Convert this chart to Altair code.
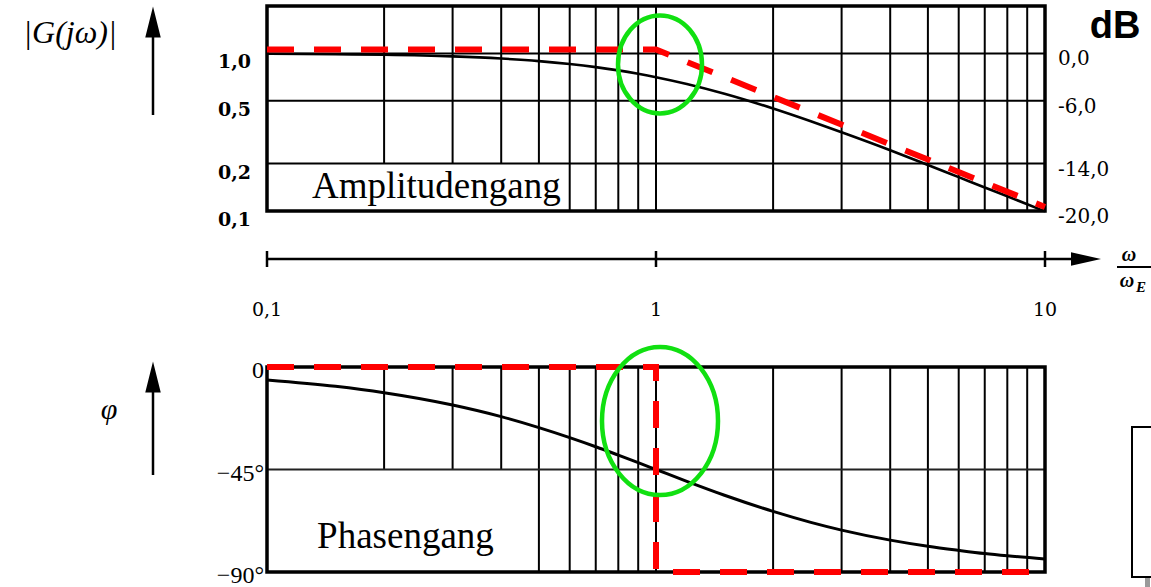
import altair as alt
import pandas as pd

# ---- frequency response of the first-order lag, read along ω/ωE ----
w_curve = [0.1, 0.15, 0.2, 0.3, 0.4, 0.5, 0.6, 0.7, 0.8, 0.9, 1.0,
           1.2, 1.5, 2.0, 2.5, 3.0, 4.0, 5.0, 6.0, 7.0, 8.0, 10.0]
mag_curve = [0.995, 0.989, 0.981, 0.958, 0.928, 0.894, 0.857, 0.819, 0.781, 0.743, 0.707,
             0.640, 0.555, 0.447, 0.371, 0.316, 0.243, 0.196, 0.164, 0.141, 0.124, 0.0995]
phase_curve = [-5.7, -8.5, -11.3, -16.7, -21.8, -26.6, -31.0, -35.0, -38.7, -42.0, -45.0,
               -50.2, -56.3, -63.4, -68.2, -71.6, -76.0, -78.7, -80.5, -81.9, -82.9, -84.3]

# straight-line asymptotes
mag_asym_w = [0.1, 1.0, 10.0]
mag_asym = [1.0, 1.0, 0.1]
phase_asym_w = [0.1, 1.0, 1.0, 10.0]
phase_asym = [0.0, 0.0, -90.0, -90.0]

# grid
grid_w = [0.2, 0.3, 0.4, 0.5, 0.6, 0.7, 0.8, 0.9, 1.0,
          2.0, 3.0, 4.0, 5.0, 6.0, 7.0, 8.0, 9.0]
mag_grid = [1.0, 0.5, 0.2]
phase_grid = [-45.0]

# tick labels
mag_ticks = [1.0, 0.5, 0.2, 0.1]
mag_tick_labels = ["1,0", "0,5", "0,2", "0,1"]
db_tick_labels = ["0,0", "-6,0", "-14,0", "-20,0"]
w_ticks = [0.1, 1.0, 10.0]
w_tick_labels = ["0,1", "1", "10"]
phase_ticks = [0.0, -45.0, -90.0]
phase_tick_labels = ["0", "\u221245°", "\u221290°"]

# highlighted corner-frequency regions (centre ω, centre value)
mag_mark = (1.024, 0.852)
phase_mark = (1.024, -23.7)

# ---- scales ----
XS = alt.Scale(type="log", domain=[0.1, 10], range=[267, 1045], nice=False)
MAG = alt.Scale(type="log", domain=[0.1, 2], range=[211, 6], nice=False)
PHI = alt.Scale(type="linear", domain=[-90, 0], range=[572, 367], nice=False, zero=False)


def X(f):
    return alt.X(f, type="quantitative", scale=XS, axis=None)


def YM(f):
    return alt.Y(f, type="quantitative", scale=MAG, axis=None)


def YP(f):
    return alt.Y(f, type="quantitative", scale=PHI, axis=None)


one = pd.DataFrame({"k": [0]})
SERIF = "Liberation Serif"
NUMF = "DejaVu Serif"

# ---- tables ----
curve = pd.DataFrame({"w": w_curve, "mag": mag_curve, "phi": phase_curve})
mag_as = pd.DataFrame({"w": mag_asym_w, "v": mag_asym, "i": range(len(mag_asym))})
phi_as = pd.DataFrame({"w": phase_asym_w, "v": phase_asym, "i": range(len(phase_asym))})
vgrid_top = pd.DataFrame({"w": grid_w, "lo": 0.1, "hi": 2.0})
vgrid_bot = pd.DataFrame({"w": grid_w, "lo": -90.0, "hi": 0.0})
hgrid_top = pd.DataFrame({"v": mag_grid, "a": 0.1, "b": 10.0})
hgrid_bot = pd.DataFrame({"v": phase_grid, "a": 0.1, "b": 10.0})
frame_top = pd.DataFrame({"a": [0.1], "b": [10.0], "lo": [0.1], "hi": [2.0]})
frame_bot = pd.DataFrame({"a": [0.1], "b": [10.0], "lo": [-90.0], "hi": [0.0]})
box_top = pd.DataFrame({"a": [0.1], "b": [0.59], "lo": [0.1], "hi": [0.2]})
box_bot = pd.DataFrame({"a": [0.1], "b": [0.49], "lo": [-90.0], "hi": [-45.0]})
mag_lab = pd.DataFrame({"v": mag_ticks, "t": mag_tick_labels, "db": db_tick_labels})
w_lab = pd.DataFrame({"w": w_ticks, "t": w_tick_labels})
phi_lab = pd.DataFrame({"v": phase_ticks, "t": phase_tick_labels})
title_top = pd.DataFrame({"w": [0.1305], "v": [0.121], "t": ["Amplitudengang"]})
title_bot = pd.DataFrame({"w": [0.1345], "v": [-79.5], "t": ["Phasengang"]})
ell_top = pd.DataFrame({"w": [mag_mark[0]], "v": [mag_mark[1]]})
ell_bot = pd.DataFrame({"w": [phase_mark[0]], "v": [phase_mark[1]]})
axis_start = pd.DataFrame({"w": [0.1]})

# ---- grid ----
vg_top = alt.Chart(vgrid_top).mark_rule(color="black", strokeWidth=2).encode(
    x=X("w"), y=YM("lo"), y2="hi")
vg_bot = alt.Chart(vgrid_bot).mark_rule(color="black", strokeWidth=2).encode(
    x=X("w"), y=YP("lo"), y2="hi")

white_top = alt.Chart(box_top).mark_rect(color="white").encode(
    x=X("a"), x2="b", y=YM("lo"), y2="hi")
white_bot = alt.Chart(box_bot).mark_rect(color="white").encode(
    x=X("a"), x2="b", y=YP("lo"), y2="hi")

hg_top = alt.Chart(hgrid_top).mark_rule(color="black", strokeWidth=2).encode(
    x=X("a"), x2="b", y=YM("v"))
hg_bot = alt.Chart(hgrid_bot).mark_rule(color="#222", strokeWidth=1.8).encode(
    x=X("a"), x2="b", y=YP("v"))

frame_t = alt.Chart(frame_top).mark_rect(fillOpacity=0, stroke="black", strokeWidth=3.5).encode(
    x=X("a"), x2="b", y=YM("lo"), y2="hi")
frame_b = alt.Chart(frame_bot).mark_rect(fillOpacity=0, stroke="black", strokeWidth=3.5).encode(
    x=X("a"), x2="b", y=YP("lo"), y2="hi")

# ---- panel titles ----
t_top = alt.Chart(title_top).mark_text(font=SERIF, fontSize=37, align="left",
                                       baseline="alphabetic", color="black").encode(
    x=X("w"), y=YM("v"), text="t:N")
t_bot = alt.Chart(title_bot).mark_text(font=SERIF, fontSize=37, align="left",
                                       baseline="alphabetic", color="black").encode(
    x=X("w"), y=YP("v"), text="t:N")

# ---- response curves ----
mag_line = alt.Chart(curve).mark_line(color="black", strokeWidth=2.6, interpolate="monotone").encode(
    x=X("w"), y=YM("mag"))
phi_line = alt.Chart(curve).mark_line(color="black", strokeWidth=3, interpolate="monotone").encode(
    x=X("w"), y=YP("phi"))

mag_red = alt.Chart(mag_as).mark_line(color="#ff0000", strokeWidth=6, strokeDash=[27, 20],
                                      yOffset=-4).encode(
    x=X("w"), y=YM("v"), order="i:Q")
phi_red = alt.Chart(phi_as).mark_line(color="#ff0000", strokeWidth=6, strokeDash=[27, 20]).encode(
    x=X("w"), y=YP("v"), order="i:Q")

# ---- green highlight ellipses ----
ellipse_top = "M-1,0A1,1.167,0,1,1,1,0A1,1.167,0,1,1,-1,0Z"
ellipse_bot = "M-1,0A1,1.276,0,1,1,1,0A1,1.276,0,1,1,-1,0Z"
g_top = alt.Chart(ell_top).mark_point(shape=ellipse_top, filled=False, stroke="#11e011",
                                      strokeWidth=4.5, size=7056, opacity=1).encode(
    x=X("w"), y=YM("v"))
g_bot = alt.Chart(ell_bot).mark_point(shape=ellipse_bot, filled=False, stroke="#11e011",
                                      strokeWidth=4.5, size=13456, opacity=1).encode(
    x=X("w"), y=YP("v"))

# ---- tick labels ----
lab_left = alt.Chart(mag_lab).mark_text(font=NUMF, fontSize=19, fontWeight="bold", align="right",
                                        baseline="middle", dy=9, color="black").encode(
    x=alt.value(251), y=YM("v"), text="t:N")
lab_right = alt.Chart(mag_lab).mark_text(font=NUMF, fontSize=20, align="left",
                                         baseline="middle", dy=6, color="black").encode(
    x=alt.value(1058), y=YM("v"), text="db:N")
lab_phi = alt.Chart(phi_lab).mark_text(font=SERIF, fontSize=24, align="right",
                                       baseline="middle", dy=4, color="black").encode(
    x=alt.value(264), y=YP("v"), text="t:N")
lab_w = alt.Chart(w_lab).mark_text(font=NUMF, fontSize=19, align="center",
                                   baseline="middle", color="black").encode(
    x=X("w"), y=alt.value(310), text="t:N")

# ---- shared frequency axis between the panels ----
w_axis = alt.Chart(axis_start).mark_rule(color="black", strokeWidth=2.5).encode(
    x=X("w"), x2=alt.value(1082), y=alt.value(259))
w_ticks_m = alt.Chart(w_lab).mark_rule(color="black", strokeWidth=2.5).encode(
    x=X("w"), y=alt.value(251), y2=alt.value(267))
arrow_right = alt.Chart(one).mark_point(shape="M1,0L-1,-0.45L-1,0.45Z", filled=True, color="black",
                                        size=900, opacity=1).encode(
    x=alt.value(1086), y=alt.value(259))
w_num = alt.Chart(one).mark_text(text="ω", font=SERIF, fontStyle="italic", fontWeight="bold",
                                 fontSize=20, align="center", baseline="alphabetic",
                                 color="black").encode(x=alt.value(1129), y=alt.value(261))
w_bar = alt.Chart(one).mark_rule(color="black", strokeWidth=1.8).encode(
    x=alt.value(1117), x2=alt.value(1152), y=alt.value(267))
w_den = alt.Chart(one).mark_text(text="ω", font=SERIF, fontStyle="italic", fontWeight="bold",
                                 fontSize=20, align="center", baseline="alphabetic",
                                 color="black").encode(x=alt.value(1127), y=alt.value(287))
w_sub = alt.Chart(one).mark_text(text="E", font=SERIF, fontStyle="italic", fontWeight="bold",
                                 fontSize=15, align="left", baseline="alphabetic",
                                 color="black").encode(x=alt.value(1136), y=alt.value(292))

# ---- quantity labels with upward arrows ----
arrow_up = "M0,-1L0.5,1L-0.5,1Z"
g_label = alt.Chart(one).mark_text(text="|G(jω)|", font=SERIF, fontStyle="italic", fontSize=32,
                                   align="center", baseline="middle", color="black").encode(
    x=alt.value(70), y=alt.value(33))
g_shaft = alt.Chart(one).mark_rule(color="black", strokeWidth=2.5).encode(
    x=alt.value(153), y=alt.value(30), y2=alt.value(115))
g_head = alt.Chart(one).mark_point(shape=arrow_up, filled=True, color="black", size=961,
                                   opacity=1).encode(x=alt.value(153), y=alt.value(22))
p_label = alt.Chart(one).mark_text(text="φ", font=SERIF, fontStyle="italic", fontSize=30,
                                   align="center", baseline="middle", color="black").encode(
    x=alt.value(109), y=alt.value(410))
p_shaft = alt.Chart(one).mark_rule(color="black", strokeWidth=2.5).encode(
    x=alt.value(153), y=alt.value(385), y2=alt.value(475))
p_head = alt.Chart(one).mark_point(shape=arrow_up, filled=True, color="black", size=961,
                                   opacity=1).encode(x=alt.value(153), y=alt.value(377))

db_label = alt.Chart(one).mark_text(text="dB", font="Liberation Sans", fontWeight="bold",
                                    fontSize=38, align="center", baseline="alphabetic",
                                    color="black").encode(x=alt.value(1115), y=alt.value(38))

# box at the lower right edge
side_box = alt.Chart(one).mark_rect(fillOpacity=0, stroke="black", strokeWidth=2).encode(
    x=alt.value(1132), x2=alt.value(1175), y=alt.value(427), y2=alt.value(577))
side_tab = alt.Chart(one).mark_rect(color="#9a9a9a").encode(
    x=alt.value(1145), x2=alt.value(1150), y=alt.value(578), y2=alt.value(587))

chart = alt.layer(
    vg_top, vg_bot, white_top, white_bot, hg_top, hg_bot,
    t_top, t_bot, frame_t, frame_b,
    mag_line, phi_line, mag_red, phi_red, g_top, g_bot,
    lab_left, lab_right, lab_phi, lab_w,
    w_axis, w_ticks_m, arrow_right, w_num, w_bar, w_den, w_sub,
    g_label, g_shaft, g_head, p_label, p_shaft, p_head, db_label,
    side_box, side_tab,
).resolve_scale(y="independent").properties(
    width=1151, height=587, padding=0,
    autosize=alt.AutoSizeParams(type="none"),
    background="white",
).configure_view(strokeWidth=0)

chart.save("out.html", embed_options={"renderer": "svg", "actions": False})
